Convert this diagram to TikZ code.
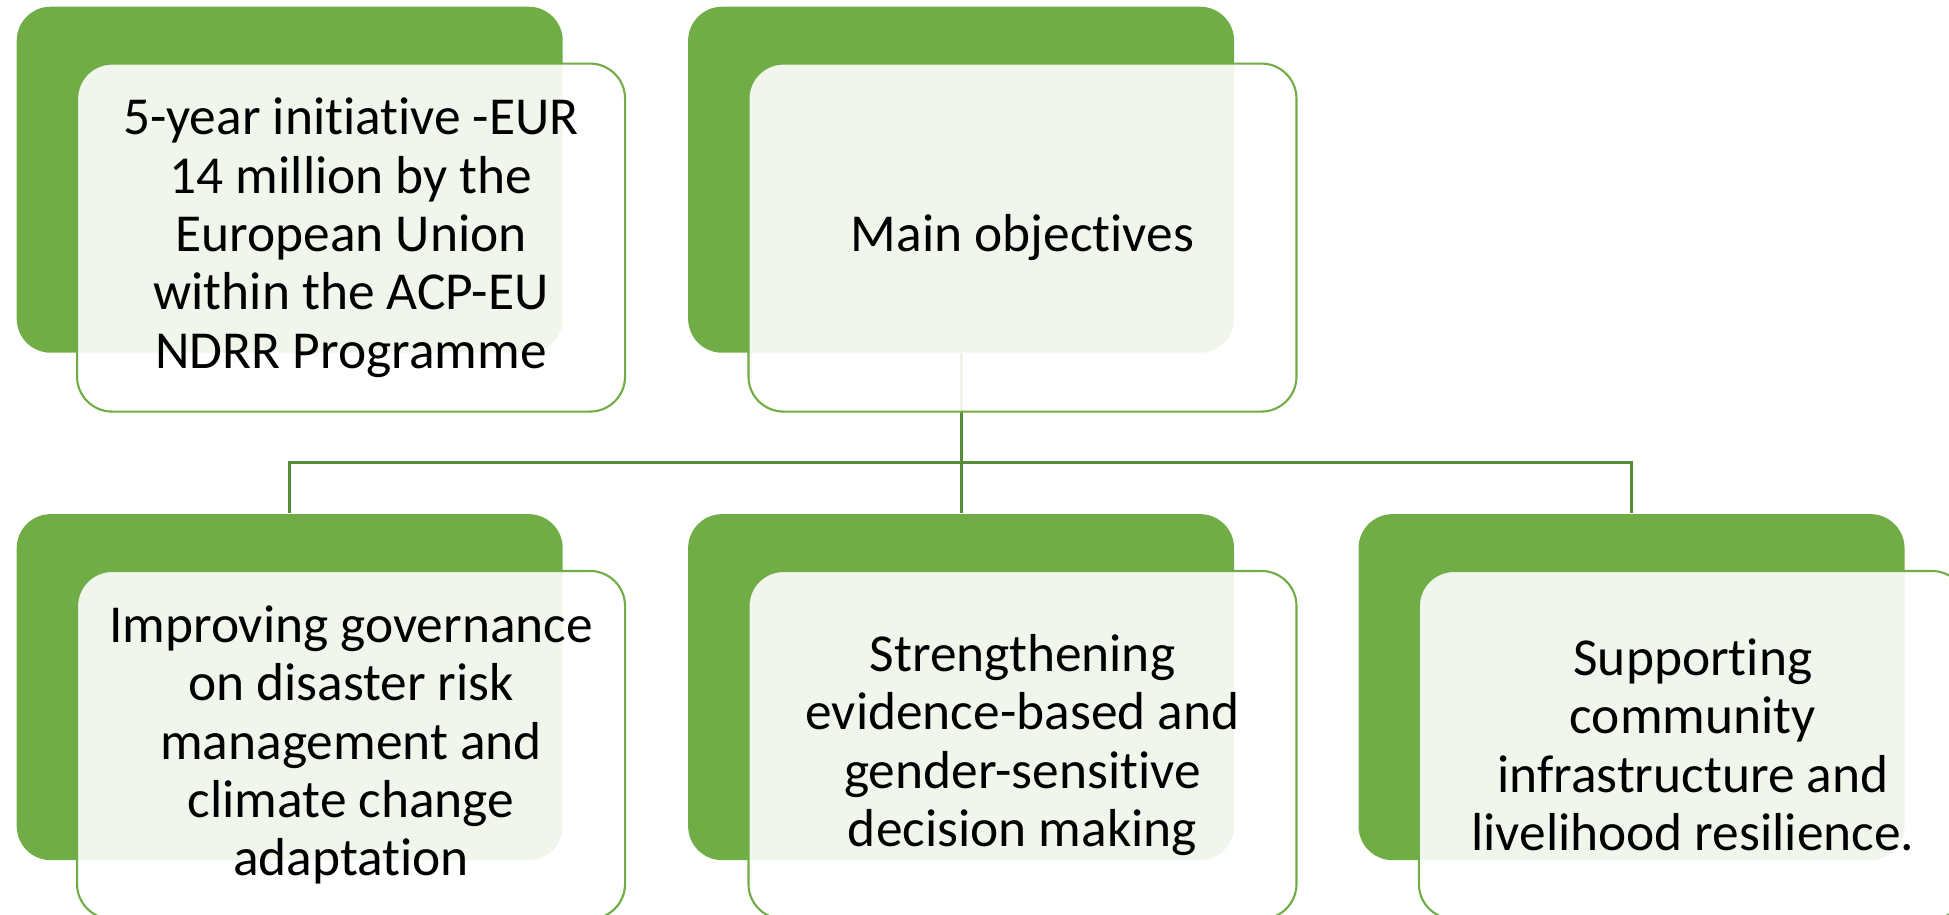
\documentclass[tikz,border=0pt]{standalone}
\usepackage{fontspec}
\setmainfont[Ligatures=CommonOff]{Carlito}
\usepackage{tikz}
\usetikzlibrary{positioning}
\usepackage{xcolor}
\definecolor{leaf}{HTML}{70AD47}
\definecolor{stem}{HTML}{588C37}
\tikzset{
	backbox/.style = {rectangle, rounded corners=0.34cm, fill=leaf, minimum width=5.46cm, minimum height=3.46cm, inner sep=0pt, anchor=north west},
	textbox/.style = {rectangle, rounded corners=0.35cm, draw=leaf, line width=0.6pt, fill=white, fill opacity=0.9, text opacity=1, minimum width=5.48cm, minimum height=3.48cm, inner sep=0pt, align=center, font=\fontsize{15.2}{16.6}\selectfont},
	link/.style = {draw=stem, line width=0.8pt}
}

\begin{document}
\begin{tikzpicture}
	\clip (0,0) rectangle (19.49,-9.14);
	\useasboundingbox (0,0) rectangle (19.49,-9.14);
	% back boxes
	\node (gA) [backbox] at (0.16,-0.06) {};
	\node (gB) [backbox, right = 1.24cm of gA] {};
	\node (gC) [backbox, below = 1.60cm of gA] {};
	\node (gD) [backbox, right = 1.24cm of gC] {};
	\node (gE) [backbox, right = 1.23cm of gD] {};
	
	% tree lines
	\node (hub) [coordinate, below = 1.09cm of gB.south] {};
	\path[link] (gB.south) -- (hub);
	\path[link] (hub) -| (gC.north);
	\path[link] (hub) -- (gD.north);
	\path[link] (hub) -| (gE.north);
	
	% front boxes
	\node (wA) [textbox, below right = 0.565cm and 0.6cm of gA.north west] {5-year initiative -EUR\\14 million by the\\European Union\\within the ACP-EU\\NDRR Programme};
	\node (wB) [textbox, below right = 0.565cm and 0.6cm of gB.north west] {Main objectives};
	\node (wC) [textbox, below right = 0.565cm and 0.6cm of gC.north west] {Improving governance\\on disaster risk\\management and\\climate change\\adaptation};
	\node (wD) [textbox, below right = 0.565cm and 0.6cm of gD.north west] {Strengthening\\evidence-based and\\gender-sensitive\\decision making};
	\node (wE) [textbox, below right = 0.565cm and 0.6cm of gE.north west] {Supporting\\community\\infrastructure and\\livelihood resilience.};
\end{tikzpicture}
\end{document}
